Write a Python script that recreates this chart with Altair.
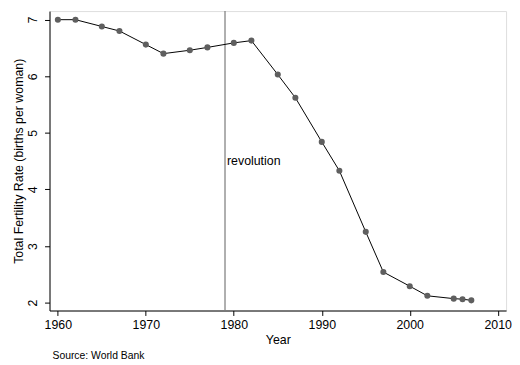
import altair as alt
import pandas as pd

years = [1960, 1962, 1965, 1967, 1970, 1972, 1975, 1977, 1980, 1982, 1985,
         1987, 1990, 1992, 1995, 1997, 2000, 2002, 2005, 2006, 2007]
fertility = [7.00, 7.00, 6.88, 6.80, 6.56, 6.40, 6.46, 6.51, 6.59, 6.63, 6.03,
             5.62, 4.84, 4.33, 3.25, 2.54, 2.29, 2.12, 2.07, 2.06, 2.04]
x_ticks = [1960, 1970, 1980, 1990, 2000, 2010]
y_ticks = [2, 3, 4, 5, 6, 7]
event_year = [1979]
event_label = ["revolution"]
event_label_y = [4.5]

df = pd.DataFrame({"Year": years, "TFR": fertility})
ev = pd.DataFrame({"Year": event_year, "label": event_label, "y": event_label_y})

FONT = "Liberation Sans"

xscale = alt.Scale(domain=[1959.05, 2010.95], nice=False, zero=False)
yscale = alt.Scale(domain=[1.86, 7.152], nice=False, zero=False)

xaxis = alt.Axis(values=x_ticks, format="d", title="Year", grid=False,
                 labelFontSize=12.5, titleFontSize=12.5, labelPadding=3,
                 titlePadding=3, tickSize=5, domainColor="black", tickColor="black",
                 labelColor="black", titleColor="black", titleFontWeight="normal",
                 labelFont=FONT, titleFont=FONT)
yaxis = alt.Axis(values=y_ticks, format="d", title="Total Fertility Rate (births per woman)",
                 grid=False, labelAngle=270, labelAlign="center", labelBaseline="middle",
                 labelFontSize=12.5, titleFontSize=12.5, labelPadding=12.5,
                 titleX=-31.5, titleBaseline="middle", titleAngle=270,
                 tickSize=5, domainColor="black", tickColor="black",
                 labelColor="black", titleColor="black", titleFontWeight="normal",
                 labelFont=FONT, titleFont=FONT)

base = alt.Chart(df)

line = base.mark_line(color="black", strokeWidth=1).encode(
    x=alt.X("Year:Q", scale=xscale, axis=xaxis),
    y=alt.Y("TFR:Q", scale=yscale, axis=yaxis),
)
pts = base.mark_point(filled=True, color="#5f5f5f", size=38, opacity=1).encode(
    x=alt.X("Year:Q", scale=xscale),
    y=alt.Y("TFR:Q", scale=yscale),
)
vline = alt.Chart(ev).mark_rule(color="#7a7a7a", strokeWidth=1.2).encode(
    x=alt.X("Year:Q", scale=xscale),
)
vtext = alt.Chart(ev).mark_text(align="left", baseline="middle", dx=2,
                                fontSize=12.5, font=FONT, color="black").encode(
    x=alt.X("Year:Q", scale=xscale),
    y=alt.Y("y:Q", scale=yscale),
    text="label:N",
)

chart = alt.layer(vline, line, pts, vtext).properties(
    width=462, height=303,
    autosize=alt.AutoSizeParams(type="none"),
    padding={"left": 42, "top": 1, "right": 6, "bottom": 52},
    title=alt.TitleParams("Source: World Bank", orient="bottom", anchor="start",
                          frame="group", fontSize=10.5, font=FONT, fontWeight="normal",
                          color="black", dx=3, offset=5),
).configure_view(stroke="black", strokeWidth=1).configure(background="white")

chart.save("out.html", embed_options={"renderer": "svg", "actions": False})
